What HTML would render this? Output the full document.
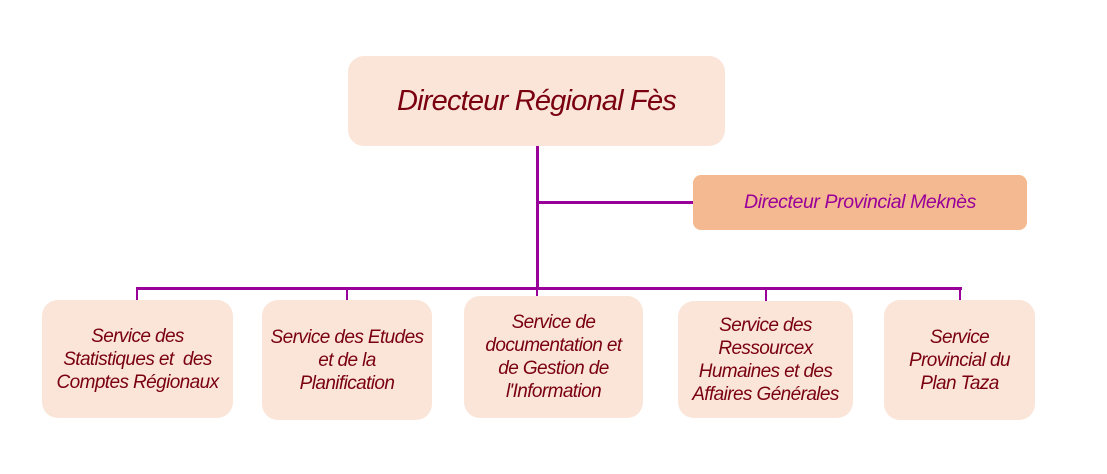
<!DOCTYPE html>
<html><head><style>
body{margin:0;width:1107px;height:474px;background:#fff;position:relative;overflow:hidden;font-family:"Liberation Sans",sans-serif;font-style:italic}
.b{position:absolute;background:#fae5d8;border-radius:16px;display:flex;align-items:center;justify-content:center;text-align:center;color:#7a0010;font-size:19px;line-height:23px;letter-spacing:-0.6px}
.l{position:absolute;background:#990099}
</style></head><body>
<div class="l" style="left:536px;top:146px;width:3px;height:143px"></div>
<div class="l" style="left:537px;top:201px;width:156px;height:3px"></div>
<div class="l" style="left:136px;top:287px;width:826px;height:3px"></div>
<div class="l" style="left:136px;top:287px;width:2px;height:14px"></div>
<div class="l" style="left:346px;top:287px;width:2px;height:14px"></div>
<div class="l" style="left:536px;top:287px;width:2px;height:10px"></div>
<div class="l" style="left:765px;top:287px;width:2px;height:14px"></div>
<div class="l" style="left:959px;top:287px;width:2px;height:14px"></div>
<div class="b" style="left:348px;top:56px;width:377px;height:90px;font-size:29px;letter-spacing:-0.8px">Directeur Régional Fès</div>
<div class="b" style="left:693px;top:175px;width:334px;height:55px;background:#f4b990;color:#990099;font-size:19.5px;border-radius:8px;letter-spacing:-0.4px">Directeur Provincial Meknès</div>
<div class="b" style="left:42px;top:300px;width:191px;height:118px">Service des<br>Statistiques et&nbsp; des<br>Comptes Régionaux</div>
<div class="b" style="left:262px;top:300px;width:170px;height:120px">Service des Etudes<br>et de la<br>Planification</div>
<div class="b" style="left:464px;top:296px;width:179px;height:122px">Service de<br>documentation et<br>de Gestion de<br>l'Information</div>
<div class="b" style="left:678px;top:301px;width:175px;height:117px">Service des<br>Ressourcex<br>Humaines et des<br>Affaires Générales</div>
<div class="b" style="left:884px;top:300px;width:151px;height:120px">Service<br>Provincial du<br>Plan Taza</div>
</body></html>
